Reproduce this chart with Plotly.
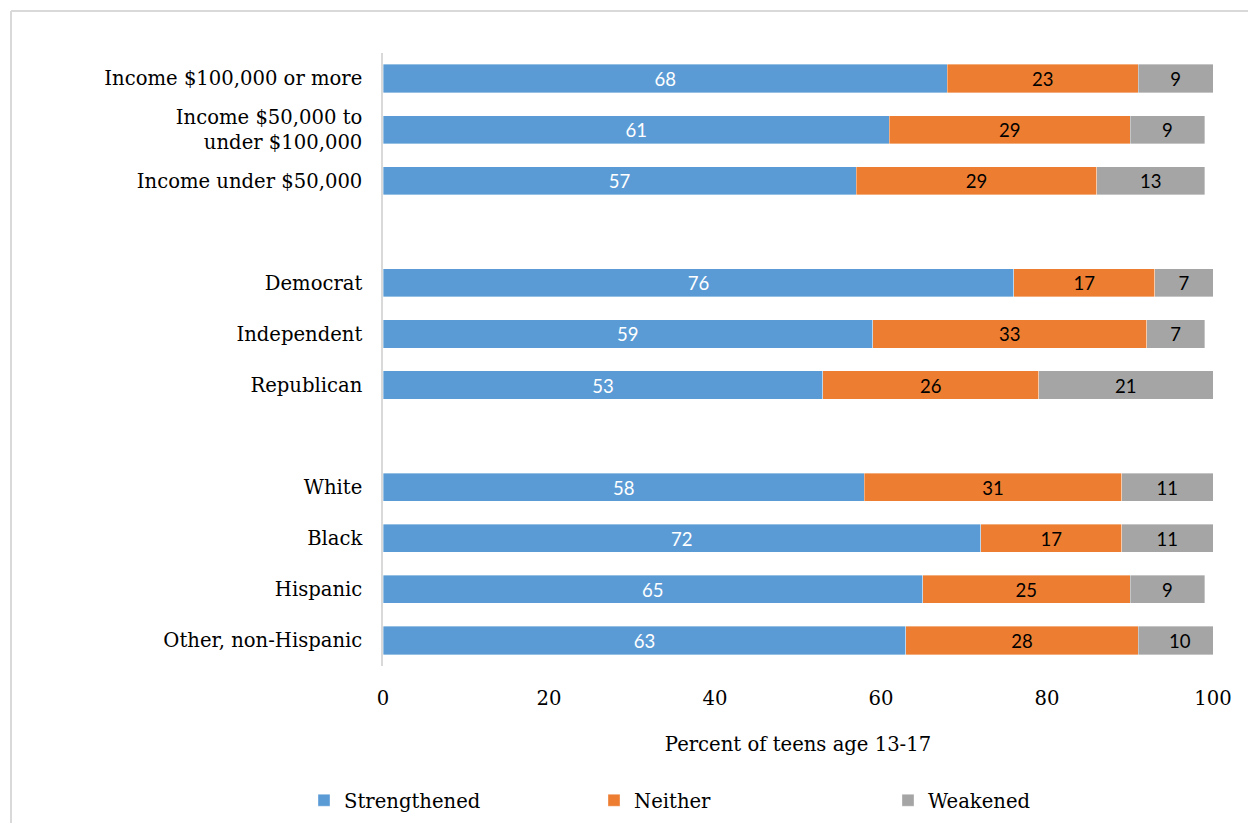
import plotly.graph_objects as go

# Survey groups (blank entries separate the three blocks)
categories = [
    "Income $100,000 or more",
    "Income $50,000 to<br>under $100,000",
    "Income under $50,000",
    " ",
    "Democrat",
    "Independent",
    "Republican",
    "  ",
    "White",
    "Black",
    "Hispanic",
    "Other, non-Hispanic",
]

strengthened = [68, 61, 57, None, 76, 59, 53, None, 58, 72, 65, 63]
neither = [23, 29, 29, None, 17, 33, 26, None, 31, 17, 25, 28]
weakened = [9, 9, 13, None, 7, 7, 21, None, 11, 11, 9, 10]

series = [
    ("Strengthened", strengthened, "#5B9BD5", "white"),
    ("Neither", neither, "#ED7D31", "black"),
    ("Weakened", weakened, "#A5A5A5", "black"),
]

x_ticks = [0, 20, 40, 60, 80, 100]

SERIF = "DejaVu Serif"
SANS = "Lato"
LABEL_SIZE = 19.6

W, H = 1248, 823
ML, MR, MT, MB = 383, 35, 53, 157
PW, PH = W - ML - MR, H - MT - MB

# each series gets its own legend box so the entries sit spread along the bottom
legend_ids = ["legend", "legend2", "legend3"]
legend_left = [304, 594, 888]

fig = go.Figure()
for (name, vals, color, txtcolor), lid in zip(series, legend_ids):
    fig.add_trace(go.Bar(
        name=name,
        y=categories,
        x=vals,
        orientation="h",
        legend=lid,
        marker=dict(color=color, line=dict(color="rgba(255,255,255,0.6)", width=0.6)),
        text=[("" if v is None else str(v)) for v in vals],
        textposition="inside",
        insidetextanchor="middle",
        textangle=0,
        insidetextfont=dict(family=SANS, size=21, color=txtcolor),
        width=0.55,
        hoverinfo="skip",
    ))

legend_style = dict(
    orientation="h",
    xref="container", yref="container",
    xanchor="left",
    y=1 - 781 / H, yanchor="top",
    font=dict(family=SERIF, size=LABEL_SIZE, color="black"),
    bgcolor="rgba(0,0,0,0)",
)
legends = {lid: dict(legend_style, x=lx / W) for lid, lx in zip(legend_ids, legend_left)}

# light frame around the chart (top and left edges visible)
fx = -(ML - 11) / PW
fy = (H - 11 - MB) / PH

fig.update_layout(
    barmode="stack",
    width=W,
    height=H,
    margin=dict(l=ML, r=MR, t=MT, b=MB, autoexpand=False),
    paper_bgcolor="white",
    plot_bgcolor="white",
    font=dict(family=SERIF, size=LABEL_SIZE, color="black"),
    showlegend=True,
    xaxis=dict(
        range=[0, 100],
        tickvals=x_ticks,
        ticktext=[str(t) for t in x_ticks],
        showgrid=False,
        zeroline=False,
        showline=False,
        ticks="",
        ticklabelstandoff=18,
        tickfont=dict(family=SERIF, size=LABEL_SIZE),
        title=dict(text="Percent of teens age 13-17", standoff=28,
                   font=dict(family=SERIF, size=LABEL_SIZE)),
        automargin=False,
        fixedrange=True,
    ),
    yaxis=dict(
        categoryorder="array",
        categoryarray=categories,
        autorange="reversed",
        showgrid=False,
        zeroline=False,
        showline=True,
        linecolor="#D9D9D9",
        linewidth=1.5,
        ticks="",
        ticklabelstandoff=15,
        tickfont=dict(family=SERIF, size=LABEL_SIZE),
        automargin=False,
        fixedrange=True,
    ),
    shapes=[
        dict(type="line", xref="paper", yref="paper",
             x0=fx, x1=1.2, y0=fy, y1=fy,
             line=dict(color="#D9D9D9", width=2)),
        dict(type="line", xref="paper", yref="paper",
             x0=fx, x1=fx, y0=-0.4, y1=fy,
             line=dict(color="#D9D9D9", width=2)),
    ],
    **legends,
)

fig.write_html("out.html")
